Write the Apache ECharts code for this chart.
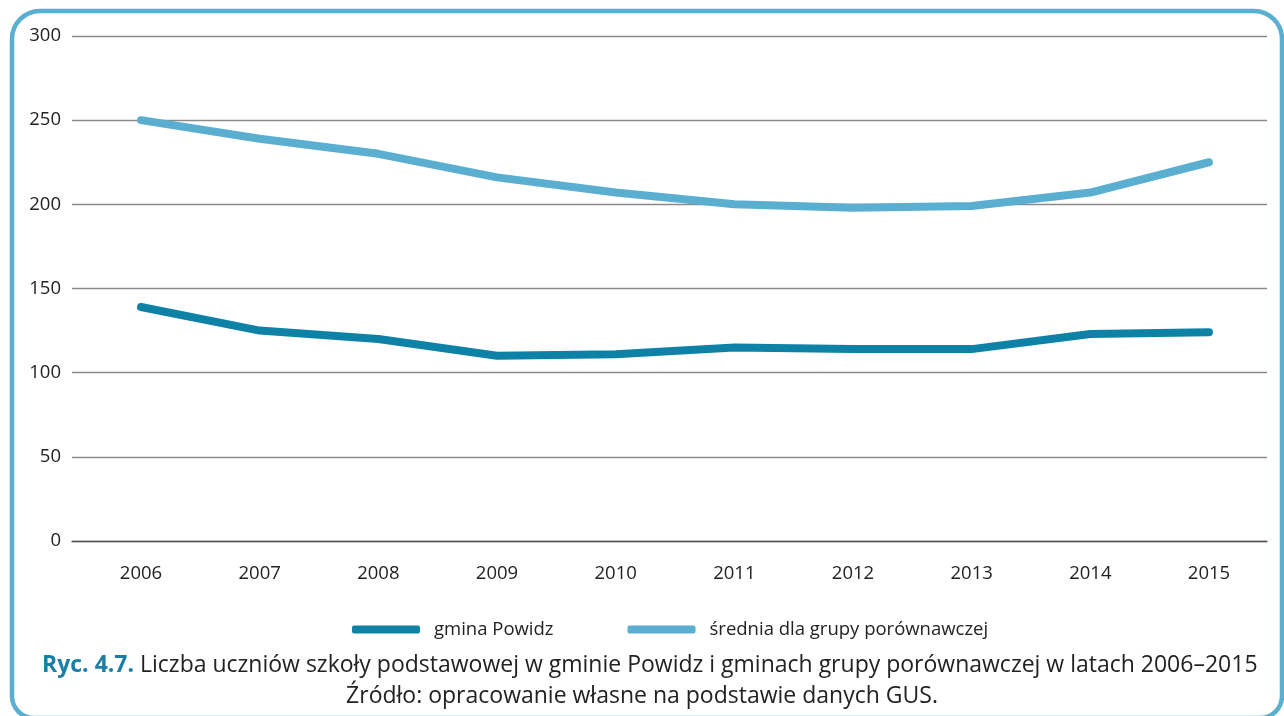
<!DOCTYPE html>
<html><head><meta charset="utf-8">
<script src="https://cdn.jsdelivr.net/npm/echarts@6/dist/echarts.min.js"></script>
<style>html,body{margin:0;padding:0;background:#fff}#c{width:1284px;height:716px}</style>
</head><body><div id="c"></div>
<script>
const years = ['2006','2007','2008','2009','2010','2011','2012','2013','2014','2015'];
const gminaPowidz = [139, 125, 120, 110, 111, 115, 114, 114, 123, 124];
const sredniaGrupy = [250, 239, 230, 216, 207, 200, 198, 199, 207, 225];
const yTicks = { min: 0, max: 300, interval: 50 };
const seriesNames = ['gmina Powidz', 'średnia dla grupy porównawczej'];
const captionBold = 'Ryc. 4.7.';
const captionText = ' Liczba uczniów szkoły podstawowej w gminie Powidz i gminach grupy porównawczej w latach 2006–2015';
const sourceText = 'Źródło: opracowanie własne na podstawie danych GUS.';

const FONT = 'Open Sans';
const chart = echarts.init(document.getElementById('c'), null, {renderer: 'canvas'});
chart.setOption({
  animation: false,
  textStyle: { fontFamily: FONT },
  color: ['#0e82a6', '#5aaed0'],
  graphic: [{
    type: 'rect', silent: true, z: -1,
    shape: { x: 12, y: 11, width: 1270, height: 707, r: [28, 28, 22, 22] },
    style: { fill: 'none', stroke: '#5aaed0', lineWidth: 4.5 }
  }],
  title: [{
    left: 37, top: 649,
    text: '{b|' + captionBold + '}{n|' + captionText + '}',
    textStyle: {
      fontWeight: 'normal',
      rich: {
        b: { fontFamily: FONT, fontSize: 23, fontWeight: 'bold', color: '#1a7fa6' },
        n: { fontFamily: FONT, fontSize: 23, fontWeight: 'normal', color: '#222' }
      }
    }
  }, {
    left: 'center', top: 680,
    text: sourceText,
    textStyle: { fontFamily: FONT, fontSize: 23, fontWeight: 'normal', color: '#222' }
  }],
  legend: {
    left: 347, top: 615,
    itemWidth: 68, itemHeight: 8, itemGap: 74,
    icon: 'roundRect',
    textStyle: { fontFamily: FONT, fontSize: 18.5, color: '#222', padding: [0, 0, 0, 9] },
    data: seriesNames
  },
  grid: [
    { left: 72, right: 17, top: 36, bottom: 175 },
    { left: 81.7, right: 15.7, top: 36, bottom: 175 }
  ],
  xAxis: [{
    gridIndex: 0, type: 'category', data: years,
    axisLine: { show: true, lineStyle: { color: '#555', width: 1.3 } },
    axisTick: { show: false }, axisLabel: { show: false }, splitLine: { show: false }
  }, {
    gridIndex: 1, type: 'category', data: years, boundaryGap: true,
    axisLine: { show: false }, axisTick: { show: false },
    axisLabel: { fontFamily: FONT, fontSize: 18.5, color: '#222', margin: 23 }
  }],
  yAxis: [{
    gridIndex: 0, type: 'value', min: yTicks.min, max: yTicks.max, interval: yTicks.interval,
    axisLine: { show: false }, axisTick: { show: false },
    axisLabel: { fontFamily: FONT, fontSize: 18.5, color: '#222', margin: 11 },
    splitLine: { lineStyle: { color: '#8a8a8a', width: 1.3 } }
  }, {
    gridIndex: 1, type: 'value', min: yTicks.min, max: yTicks.max, interval: yTicks.interval,
    axisLine: { show: false }, axisTick: { show: false }, axisLabel: { show: false },
    splitLine: { show: false }
  }],
  series: [{
    name: seriesNames[0], type: 'line', xAxisIndex: 1, yAxisIndex: 1,
    data: gminaPowidz, symbol: 'none',
    lineStyle: { width: 8, cap: 'round', join: 'round', color: '#0e82a6' }
  }, {
    name: seriesNames[1], type: 'line', xAxisIndex: 1, yAxisIndex: 1,
    data: sredniaGrupy, symbol: 'none',
    lineStyle: { width: 8, cap: 'round', join: 'round', color: '#5aaed0' }
  }]
});
</script></body></html>
